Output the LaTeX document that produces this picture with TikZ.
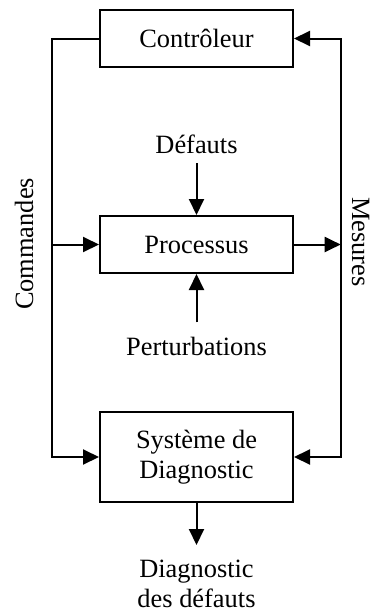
\documentclass[tikz,border=0pt]{standalone}
\usepackage{fontspec}
\setmainfont{Liberation Serif}
\usetikzlibrary{arrows.meta}
\begin{document}
\begin{tikzpicture}[x=1pt,y=-1pt,
  every node/.style={font=\fontsize{26.4}{30}\selectfont},
  blk/.style={draw,line width=2pt,minimum width=193pt,inner sep=0pt,align=center},
  lbl/.style={inner sep=0pt,align=center},
  arr/.style={line width=2pt,-{Triangle[length=16pt,width=15pt]}},
  ln/.style={line width=2pt}]
\useasboundingbox (0,0) rectangle (376,616);
\node[blk,minimum height=57pt] (ctrl) at (196.5,38.5) {Contrôleur};
\node[blk,minimum height=57pt] (proc) at (196.5,244.5) {Processus};
\node[blk,minimum height=90pt] (diag) at (196.5,457) {Système de\\Diagnostic};
\node[lbl,anchor=base] (def) at (196.5,153) {Défauts};
\node[lbl,anchor=base] (pert) at (196.5,355) {Perturbations};
\node[lbl,anchor=north] (out) at (196.5,560) {Diagnostic\\des défauts};
\node[lbl,rotate=90,anchor=base] (cmd) at (33,244) {Commandes};
\node[lbl,rotate=-90,anchor=base] (mes) at (352,242) {Mesures};
\coordinate (L) at (51.7,244.5);
\coordinate (R) at (340.7,244.5);
\draw[ln] (ctrl.west) -| (L);
\draw[arr] (L) -- (proc.west);
\draw[arr] (L) |- (diag.west);
\draw[arr] (proc.east) -- (R);
\draw[arr] (R) |- (ctrl.east);
\draw[arr] (R) |- (diag.east);
\draw[arr,shorten <=10pt] (def.south) -- (proc.north);
\draw[arr,shorten <=14pt] (pert.north) -- (proc.south);
\draw[arr,shorten >=15pt] (diag.south) -- (out.north);
\end{tikzpicture}
\end{document}
